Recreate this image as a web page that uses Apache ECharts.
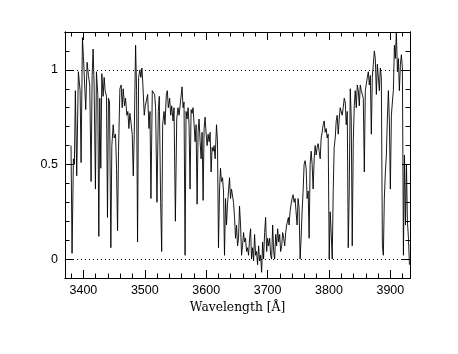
<!DOCTYPE html>
<html>
<head>
<meta charset="utf-8">
<script src="https://cdn.jsdelivr.net/npm/echarts@6/dist/echarts.min.js"></script>
<style>
html, body { margin: 0; padding: 0; background: #fff; }
#chart { width: 458px; height: 354px; }
</style>
</head>
<body>
<div id="chart"></div>
<script>
// spectrum: wavelength in Angstrom, normalised flux
var wavelength = [
    3379.8, 3381.5, 3383.7, 3385.3, 3386.9, 3389.1, 3391.8, 3394.6, 3396.2, 3398.4,
    3400.0, 3402.2, 3403.8, 3406.0, 3408.2, 3410.3, 3412.5, 3414.2, 3415.8, 3417.4,
    3419.6, 3421.2, 3423.4, 3425.1, 3426.7, 3428.3, 3430.0, 3432.1, 3433.8, 3435.4,
    3437.6, 3439.2, 3440.8, 3442.5, 3444.7, 3446.3, 3448.5, 3450.1, 3452.3, 3453.9,
    3455.6, 3457.2, 3459.4, 3461.5, 3463.2, 3464.8, 3467.0, 3468.6, 3470.8, 3472.4,
    3474.1, 3475.7, 3477.9, 3479.5, 3481.2, 3482.8, 3485.0, 3486.6, 3488.2, 3489.9,
    3492.0, 3493.7, 3495.3, 3496.9, 3499.1, 3500.8, 3502.4, 3504.6, 3506.8, 3508.4,
    3510.0, 3512.2, 3514.4, 3516.0, 3517.6, 3519.8, 3522.0, 3523.6, 3525.8, 3527.5,
    3529.1, 3531.3, 3532.9, 3535.1, 3536.7, 3538.3, 3540.5, 3542.2, 3543.8, 3546.0,
    3547.6, 3549.8, 3552.0, 3554.1, 3555.8,
    3560.7, 3562.3, 3563.9, 3565.6, 3567.2, 3568.8, 3570.5, 3572.1, 3573.7, 3575.4,
    3577.0, 3578.6, 3580.3, 3581.9, 3583.5, 3585.2, 3586.8, 3588.4, 3590.1, 3591.7,
    3593.3, 3595.0, 3596.6, 3598.2, 3599.9, 3601.5, 3603.1, 3604.8, 3606.4, 3608.0,
    3609.7, 3611.3, 3612.9, 3614.6, 3616.8, 3618.4, 3620.0, 3621.7, 3623.3, 3624.9,
    3626.6, 3628.2, 3629.8, 3631.5, 3633.1, 3634.7, 3636.4, 3638.0, 3639.6, 3641.3,
    3642.9, 3644.5, 3646.2, 3647.8, 3649.4, 3651.1, 3652.7, 3654.3, 3656.0, 3657.6,
    3659.2, 3660.9, 3662.5, 3664.1, 3665.8, 3667.4, 3669.0, 3670.7, 3672.3, 3673.9,
    3675.6, 3677.2, 3678.8, 3680.5, 3682.1, 3683.7, 3685.4, 3687.0, 3688.6, 3690.3,
    3691.9, 3693.5, 3695.2, 3696.8, 3698.5, 3700.1, 3701.7, 3703.4, 3705.0, 3706.6,
    3708.3, 3709.9, 3711.5, 3713.2, 3714.8, 3716.4, 3718.1, 3719.7, 3721.3, 3723.0,
    3724.6, 3726.2, 3727.9, 3729.5, 3731.1, 3733.9,
    3735.0, 3736.6, 3738.3, 3739.9, 3741.5, 3743.2, 3744.8, 3746.4, 3748.1, 3749.7,
    3751.3, 3753.0, 3754.6, 3756.2, 3757.9, 3759.5, 3761.1, 3762.8, 3764.4, 3766.1,
    3767.7, 3769.3, 3771.0, 3772.6, 3774.2, 3775.9, 3777.5, 3779.1, 3780.8, 3782.4,
    3784.0, 3785.7, 3787.3, 3788.9, 3790.6, 3792.2, 3793.8, 3795.5, 3797.1, 3798.7,
    3800.4, 3802.0, 3803.6, 3805.3, 3806.9, 3808.5, 3810.2, 3811.8, 3813.4, 3815.1,
    3816.7, 3818.3, 3820.0, 3821.6, 3823.2, 3824.9, 3826.5, 3828.1, 3829.8, 3831.4,
    3833.0, 3834.7, 3836.3, 3837.9, 3839.6, 3841.2, 3842.8, 3844.5, 3846.1, 3847.8,
    3849.4, 3851.0, 3852.7, 3854.3, 3855.9, 3857.6, 3859.2, 3860.8, 3862.5, 3864.1,
    3865.7, 3867.4, 3869.0, 3870.6, 3872.3, 3873.9, 3875.5, 3877.2, 3878.8, 3880.4,
    3882.1, 3883.7, 3885.3, 3887.0, 3888.6, 3890.2, 3891.9, 3893.5, 3895.1, 3896.8,
    3898.4, 3900.0, 3901.7, 3903.3, 3904.9, 3906.6, 3908.2, 3909.8, 3911.5, 3913.1,
    3914.7, 3916.4, 3918.0, 3919.6, 3921.3, 3922.9, 3924.6, 3926.2, 3927.8, 3929.5,
    3931.1
];
var flux = [
    0.60, 0.03, 0.53, 0.50, 0.89, 0.44, 0.99, 0.89, 0.51, 1.17,
    1.07, 1.06, 0.79, 1.04, 0.97, 0.92, 0.41, 0.97, 1.11, 0.92,
    0.37, 0.99, 0.87, 0.12, 0.85, 0.48, 0.98, 0.86, 0.96, 0.89,
    0.86, 0.22, 0.85, 0.83, 0.06, 0.60, 0.71, 0.64, 0.66, 0.48,
    0.15, 0.57, 0.90, 0.92, 0.80, 0.90, 0.81, 0.85, 0.76, 0.78,
    0.69, 0.77, 0.71, 0.66, 0.44, 0.66, 1.13, 0.89, 0.09, 0.96,
    1.00, 0.96, 1.01, 0.92, 0.76, 0.81, 0.80, 0.87, 0.69, 0.78,
    0.32, 0.89, 0.89, 0.87, 0.80, 0.30, 0.78, 0.86, 0.30, 0.04,
    0.71, 0.78, 0.71, 0.87, 0.89, 0.80, 0.85, 0.76, 0.81, 0.73,
    0.80, 0.20, 0.74, 0.80, 0.76,
    0.91, 0.80, 0.83, 0.02, 0.78, 0.74, 0.80, 0.71, 0.37, 0.79,
    0.77, 0.80, 0.71, 0.62, 0.71, 0.29, 0.67, 0.74, 0.62, 0.53,
    0.67, 0.31, 0.69, 0.75, 0.66, 0.60, 0.66, 0.62, 0.67, 0.46,
    0.59, 0.57, 0.60, 0.53, 0.71, 0.62, 0.06, 0.36, 0.48, 0.41,
    0.43, 0.36, 0.02, 0.32, 0.18, 0.29, 0.36, 0.43, 0.32, 0.37,
    0.36, 0.30, 0.22, 0.11, 0.18, 0.07, 0.11, 0.28, 0.18, 0.02,
    0.07, 0.14, 0.09, 0.11, 0.04, 0.06, 0.02, 0.11, 0.16, 0.00,
    0.06, -0.01, 0.13, 0.02, 0.04, -0.03, 0.07, -0.01, 0.02, -0.07,
    0.09, 0.00, 0.14, 0.22, 0.04, 0.11, 0.07, 0.11, 0.02, 0.00,
    0.18, 0.04, 0.00, 0.13, 0.07, 0.16, 0.09, 0.13, 0.04, 0.07,
    0.14, 0.11, 0.07, 0.14, 0.18, 0.22,
    0.18, 0.25, 0.29, 0.32, 0.34, 0.30, 0.32, 0.25, 0.18, 0.32,
    0.27, 0.00, 0.11, 0.25, 0.36, 0.50, 0.52, 0.48, 0.32, 0.36,
    0.11, 0.50, 0.57, 0.50, 0.37, 0.53, 0.60, 0.55, 0.59, 0.61,
    0.57, 0.53, 0.64, 0.67, 0.71, 0.73, 0.67, 0.69, 0.64, 0.66,
    0.00, 0.25, 0.14, 0.00, 0.36, 0.59, 0.64, 0.73, 0.76, 0.66,
    0.74, 0.80, 0.81, 0.76, 0.80, 0.85, 0.83, 0.71, 0.78, 0.06,
    0.36, 0.90, 0.74, 0.07, 0.62, 0.81, 0.89, 0.80, 0.92, 0.89,
    0.81, 0.92, 0.89, 0.90, 0.85, 0.46, 0.89, 0.90, 0.96, 0.99,
    0.92, 0.97, 0.66, 0.96, 1.03, 1.10, 1.06, 0.87, 1.03, 1.04,
    0.89, 1.01, 0.96, 0.07, 0.02, 0.32, 0.46, 0.55, 0.74, 0.89,
    0.73, 0.37, 0.76, 0.83, 0.89, 1.13, 1.06, 1.20, 0.99, 1.06,
    0.89, 1.03, 1.08, 1.01, 0.02, 0.55, 0.18, 0.50, 0.20, 0.11,
    -0.03
];

var xMajorTicks = [3400, 3500, 3600, 3700, 3800, 3900];
var xMinorTicks = [3380, 3420, 3440, 3460, 3480, 3520, 3540, 3560, 3580, 3620, 3640, 3660, 3680,
    3720, 3740, 3760, 3780, 3820, 3840, 3860, 3880, 3920];
var yMajorTicks = [0, 0.5, 1];
var yMinorTicks = [0.1, 0.2, 0.3, 0.4, 0.6, 0.7, 0.8, 0.9, 1.1];
var guideLevels = [0, 1];

var chart = echarts.init(document.getElementById('chart'), null, { renderer: 'canvas' });

function frameAxis(dim, pos, ticks, len, withLabels) {
    var axis = {
        type: 'value',
        position: pos,
        min: dim === 'x' ? 3370 : -0.1,
        max: dim === 'x' ? 3932 : 1.2,
        axisLine: { show: true, onZero: false, lineStyle: { color: '#000', width: 1 } },
        axisTick: { show: true, inside: true, length: len, customValues: ticks, lineStyle: { color: '#000', width: 1 } },
        axisLabel: { show: false },
        splitLine: { show: false }
    };
    if (withLabels) {
        axis.axisLabel = {
            show: true,
            customValues: ticks,
            margin: dim === 'x' ? 6 : 7,
            color: '#000',
            fontFamily: 'Liberation Sans',
            fontSize: 12.5,
            // plain numbers, no thousands separator
            formatter: function (v) { return String(v); }
        };
    }
    return axis;
}

var xBottom = frameAxis('x', 'bottom', xMajorTicks, 8, true);
xBottom.name = 'Wavelength [Å]';
xBottom.nameLocation = 'middle';
xBottom.nameGap = 22;
xBottom.nameTextStyle = { color: '#000', fontFamily: 'DejaVu Serif', fontSize: 12.3 };

var option = {
    backgroundColor: '#fff',
    animation: false,
    grid: { left: 65, right: 48, top: 32, bottom: 76, show: false },
    xAxis: [
        xBottom,
        frameAxis('x', 'bottom', xMinorTicks, 4.5, false),
        frameAxis('x', 'top', xMajorTicks, 8, false),
        frameAxis('x', 'top', xMinorTicks, 4.5, false)
    ],
    yAxis: [
        frameAxis('y', 'left', yMajorTicks, 8, true),
        frameAxis('y', 'left', yMinorTicks, 4.5, false),
        frameAxis('y', 'right', yMajorTicks, 8, false),
        frameAxis('y', 'right', yMinorTicks, 4.5, false)
    ],
    series: [{
        type: 'line',
        xAxisIndex: 0,
        yAxisIndex: 0,
        data: wavelength.map(function (w, i) { return [w, flux[i]]; }),
        symbol: 'none',
        lineStyle: { color: '#000', width: 0.9 },
        markLine: {
            silent: true,
            symbol: 'none',
            label: { show: false },
            lineStyle: { color: '#000', width: 1, type: [1, 3] },
            data: guideLevels.map(function (v) { return { yAxis: v }; })
        }
    }]
};
chart.setOption(option);
</script>
</body>
</html>
